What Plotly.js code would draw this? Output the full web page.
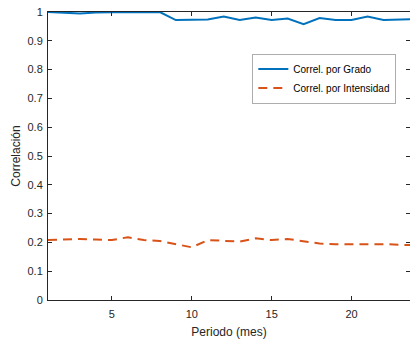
<!DOCTYPE html>
<html><head><meta charset="utf-8">
<script src="https://cdn.plot.ly/plotly-3.0.1.min.js"></script>
<style>html,body{margin:0;padding:0;background:#fff;}#chart{width:410px;height:339px;}</style>
</head><body><div id="chart"></div>
<script>
const periodo = [1,2,3,4,5,6,7,8,9,10,11,12,13,14,15,16,17,18,19,20,21,22,23,24];
const correlGrado = [1.0,0.998,0.995,0.998,1.0,1.0,0.999,1.0,0.972,0.972,0.974,0.984,0.972,0.981,0.972,0.977,0.958,0.979,0.972,0.972,0.984,0.972,0.972,0.975];
const correlIntensidad = [0.208,0.211,0.212,0.210,0.208,0.218,0.208,0.205,0.194,0.183,0.208,0.206,0.203,0.214,0.208,0.212,0.205,0.196,0.194,0.194,0.196,0.194,0.192,0.190];
const serieNombres = ['Correl. por Grado','Correl. por Intensidad'];
const yTicks = [0,0.1,0.2,0.3,0.4,0.5,0.6,0.7,0.8,0.9,1];
const yTickText = ['0','0.1','0.2','0.3','0.4','0.5','0.6','0.7','0.8','0.9','1'];
const xTicks = [5,10,15,20];

const font = 'Liberation Sans, Arial, Helvetica, sans-serif';
const axisCol = '#262626';
const traces = [
  {x: periodo, y: correlGrado, name: serieNombres[0], mode: 'lines', line: {color: '#0072BD', width: 2}},
  {x: periodo, y: correlIntensidad, name: serieNombres[1], mode: 'lines', line: {color: '#D95319', width: 2, dash: '9px,6px'}}
];
const layout = {
  width: 410, height: 339,
  margin: {l: 47.5, r: 0, t: 12, b: 38.5},
  paper_bgcolor: '#fff', plot_bgcolor: '#fff',
  font: {family: font, size: 11, color: axisCol},
  showlegend: true,
  legend: {x: 0.565, y: 0.855, xanchor: 'left', yanchor: 'top', bgcolor: '#fff', bordercolor: '#999', borderwidth: 0.8,
           font: {family: font, size: 10, color: '#000'}, tracegroupgap: 0},
  xaxis: {range: [1, 23.66], tickvals: xTicks, ticks: 'inside', ticklen: 4, tickcolor: axisCol,
          showline: true, linecolor: axisCol, linewidth: 1, mirror: 'ticks', showgrid: false, zeroline: false,
          ticklabelstandoff: 4,
          tickfont: {family: font, size: 11, color: axisCol},
          title: {text: 'Periodo (mes)', font: {family: font, size: 12, color: axisCol}, standoff: 8}},
  yaxis: {range: [0, 1], tickvals: yTicks, ticktext: yTickText, ticks: 'inside', ticklen: 4, tickcolor: axisCol,
          showline: true, linecolor: axisCol, linewidth: 1, mirror: 'ticks', showgrid: false, zeroline: false,
          ticklabelstandoff: 2,
          tickfont: {family: font, size: 11, color: axisCol},
          title: {text: 'Correlación', font: {family: font, size: 12, color: axisCol}, standoff: 4}}
};
Plotly.newPlot('chart', traces, layout, {displayModeBar: false, staticPlot: true});
</script></body></html>
